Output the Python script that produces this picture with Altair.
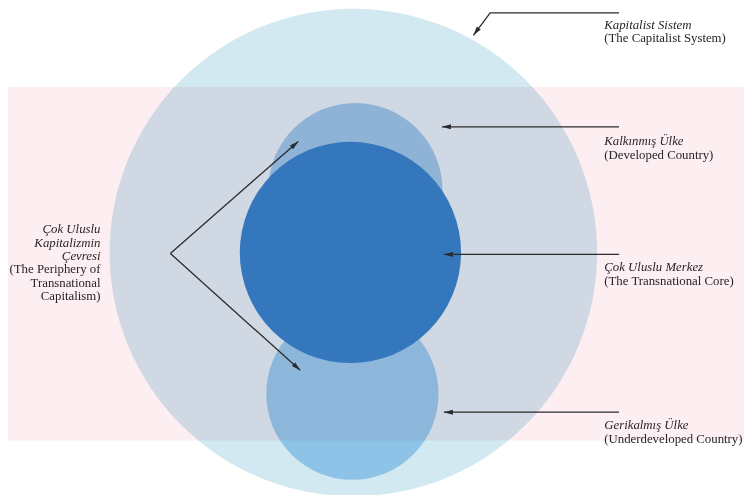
import math
import altair as alt
import pandas as pd

# ---- reference extent (image pixels) mapped onto the plot area ----
X_DOMAIN = [2, 750]
Y_DOMAIN = [1, 501]
PW, PH = 736, 487
SX = PW / (X_DOMAIN[1] - X_DOMAIN[0])
SY = PH / (Y_DOMAIN[1] - Y_DOMAIN[0])
S = (SX + SY) / 2

# ---- circles (centre / radius in reference pixels) ----
circle_names = ["Kapitalist Sistem", "Kalkınmış Ülke", "Gerikalmış Ülke", "Çok Uluslu Merkez"]
circle_cx = [353, 355, 352, 350]
circle_cy = [252, 188, 397, 252]
circle_r = [249, 89, 88, 113]
circle_colors = ["#d2e9f1", "#8fc0e4", "#8ec3e8", "#3580c8"]

# ---- right-hand labels ----
label_tr = ["Kapitalist Sistem", "Kalkınmış Ülke", "Çok Uluslu Merkez", "Gerikalmış Ülke"]
label_en = ["(The Capitalist System)", "(Developed Country)", "(The Transnational Core)",
            "(Underdeveloped Country)"]
label_x = [608, 608, 608, 608]
label_y_tr = [18, 138, 267, 429]
label_y_en = [32, 152, 281, 443]

# ---- left-hand label ----
left_tr = ["Çok Uluslu", "Kapitalizmin", "Çevresi"]
left_en = ["(The Periphery of", "Transnational", "Capitalism)"]
left_x = 96
left_y_tr = [228, 242, 256]
left_y_en = [269, 283, 297]

# ---- arrows (polylines, last point is the arrow tip) ----
arrow_ids = ["cap", "dev", "core", "under", "per_up", "per_down"]
arrow_xs = [[623, 492, 475], [623, 443], [623, 445], [623, 445], [167, 297], [167, 299]]
arrow_ys = [[6, 6, 29], [123, 123], [254, 254], [416, 416], [253, 138], [253, 373]]

# ---- watermark band ----
band_y = [82, 445]

xs = alt.Scale(domain=X_DOMAIN, nice=False, zero=False)
ys = alt.Scale(domain=[Y_DOMAIN[1], Y_DOMAIN[0]], nice=False, zero=False)

circles = pd.DataFrame({
    "name": circle_names, "cx": circle_cx, "cy": circle_cy,
    # Vega circle: radius = sqrt(size) / 2
    "size": [(2 * r * S) ** 2 for r in circle_r],
    "color": circle_colors, "k": list(range(len(circle_names))),
})

line_rows, head_rows = [], []
for aid, axs, ays in zip(arrow_ids, arrow_xs, arrow_ys):
    for k, (x, y) in enumerate(zip(axs, ays)):
        line_rows.append({"id": aid, "k": k, "x": x, "y": y})
    dx = axs[-1] - axs[-2]
    dy = ays[-1] - ays[-2]
    ang = math.degrees(math.atan2(dy, dx)) % 360
    head_rows.append({"id": aid, "x": axs[-1], "y": ays[-1], "angle": ang})
lines = pd.DataFrame(line_rows)
heads = pd.DataFrame(head_rows)

band = pd.DataFrame({"x": [X_DOMAIN[0]], "x2": [X_DOMAIN[1]], "y": [band_y[0]], "y2": [band_y[1]]})

labels_it = pd.DataFrame({"x": label_x, "y": label_y_tr, "t": label_tr})
labels_rm = pd.DataFrame({"x": label_x, "y": label_y_en, "t": label_en})
left_it = pd.DataFrame({"x": [left_x] * 3, "y": left_y_tr, "t": left_tr})
left_rm = pd.DataFrame({"x": [left_x] * 3, "y": left_y_en, "t": left_en})

FONT = "Liberation Serif"
TXT = "#262626"
INK = "#2b2b2b"

circle_layer = alt.Chart(circles).mark_circle(opacity=1).encode(
    x=alt.X("cx:Q", scale=xs, axis=None),
    y=alt.Y("cy:Q", scale=ys, axis=None),
    size=alt.Size("size:Q", scale=None, legend=None),
    color=alt.Color("color:N", scale=None, legend=None),
    order=alt.Order("k:Q"),
)

band_layer = alt.Chart(band).mark_rect(color="#fdeef1", blend="multiply").encode(
    x=alt.X("x:Q", scale=xs, axis=None), x2="x2:Q",
    y=alt.Y("y:Q", scale=ys, axis=None), y2="y2:Q",
)

line_layer = alt.Chart(lines).mark_line(color=INK, strokeWidth=1.3).encode(
    x=alt.X("x:Q", scale=xs, axis=None),
    y=alt.Y("y:Q", scale=ys, axis=None),
    detail="id:N",
    order="k:Q",
)

head_layer = alt.Chart(heads).mark_point(
    shape="M0,0L-2,-0.55L-2,0.55Z", filled=True, color=INK, opacity=1, size=81
).encode(
    x=alt.X("x:Q", scale=xs, axis=None),
    y=alt.Y("y:Q", scale=ys, axis=None),
    angle=alt.Angle("angle:Q", scale=None),
)


def text_layer(df, italic, align):
    return alt.Chart(df).mark_text(
        font=FONT, fontSize=12.8, fontStyle="italic" if italic else "normal",
        align=align, baseline="middle", color=TXT,
    ).encode(
        x=alt.X("x:Q", scale=xs, axis=None),
        y=alt.Y("y:Q", scale=ys, axis=None),
        text="t:N",
    )


chart = alt.layer(
    circle_layer, band_layer, line_layer, head_layer,
    text_layer(labels_it, True, "left"), text_layer(labels_rm, False, "left"),
    text_layer(left_it, True, "right"), text_layer(left_rm, False, "right"),
).properties(
    width=PW, height=PH, autosize="none", padding=0, background="white",
).configure_view(stroke=None)

chart.save("out.html", embed_options={"renderer": "svg", "actions": False})
